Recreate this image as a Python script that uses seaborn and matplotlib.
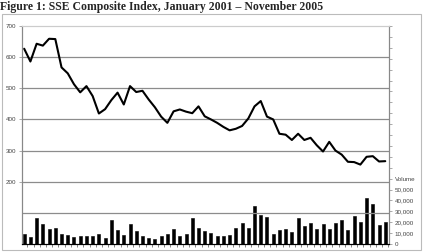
import numpy as np
import pandas as pd
import matplotlib
matplotlib.use("Agg")
import matplotlib.pyplot as plt
import seaborn as sns

# Monthly data, Jan 2001 - Nov 2005
months = pd.date_range("2001-01-01", "2005-11-01", freq="MS").strftime("%Y-%m").tolist()

index_close = [627, 586, 643, 637, 659, 658, 567, 548, 513, 487,
               507, 475, 419, 433, 462, 486, 448, 507, 488, 492,
               464, 439, 409, 389, 426, 432, 425, 420, 442, 410,
               400, 389, 376, 365, 370, 379, 403, 442, 459, 409,
               400, 354, 351, 334, 354, 334, 341, 317, 297, 328,
               300, 287, 264, 263, 255, 280, 282, 265, 266]

volume = [9300, 6500, 23800, 18200, 13900, 14800, 9600, 8300, 6200, 7100,
          7400, 7700, 9000, 5600, 21600, 13300, 8300, 18500, 12000, 7400,
          5600, 4600, 7700, 9000, 13600, 7400, 9300, 24200, 15000, 12000,
          10300, 7000, 7000, 8100, 14400, 19000, 15000, 35000, 26800, 24700,
          9000, 13200, 14000, 11200, 23800, 16800, 18900, 14000, 18300, 13700,
          19500, 22000, 12500, 25300, 20400, 42100, 36900, 17700, 20400]

left_ticks = [200, 300, 400, 500, 600, 700]
right_ticks = [0, 10000, 20000, 30000, 40000, 50000]

df = pd.DataFrame({"month": months, "pos": range(len(months)),
                   "index": index_close, "volume": volume})

sns.set_style("white")
plt.rcParams["font.family"] = ["Liberation Sans", "DejaVu Sans"]

fig = plt.figure(figsize=(4.24, 2.52), dpi=100)
ax = fig.add_axes([22 / 424, 8 / 252, 367 / 424, 218 / 252])
axv = ax.twinx()

# volume bars (right axis)
sns.barplot(data=df, x="month", y="volume", color="black", width=0.48,
            saturation=1, edgecolor="black", linewidth=0.4, ax=axv)
# index line (left axis)
sns.lineplot(data=df, x="pos", y="index", color="black", linewidth=1.5, ax=ax)
ax.set_zorder(axv.get_zorder() + 1)
ax.patch.set_visible(False)

ax.set_xlim(-0.35, 58.6)
ax.set_ylim(0, 700)
axv.set_ylim(0, 200000)

# left axis + grid
ax.set_yticks(left_ticks)
ax.set_yticklabels([str(v) for v in left_ticks], fontsize=4.5, color="#444444")
for y in range(100, 700, 100):
    ax.axhline(y, color="#8c8c8c", linewidth=0.9, zorder=0)
ax.tick_params(axis="y", length=2, width=0.5, color="#888888", pad=2)
ax.set_xlabel("")
ax.set_ylabel("")

# bottom axis ticks at month boundaries
ax.set_xticks(np.arange(0.5, 58.6, 1))
ax.set_xticklabels([])
ax.tick_params(axis="x", length=2, width=0.5, color="#555555", bottom=True)
axv.tick_params(axis="x", bottom=False, labelbottom=False)

# right axis: volume
axv.set_yticks(np.arange(0, 200001, 10000))
rlabels = []
for v in np.arange(0, 200001, 10000):
    if v in right_ticks:
        rlabels.append(f"{v:,}")
    elif v == 60000:
        rlabels.append("Volume")
    else:
        rlabels.append("")
axv.set_yticklabels(rlabels, fontsize=4.5, color="#444444")
axv.tick_params(axis="y", length=2, width=0.5, color="#888888", pad=2, right=True)
axv.set_xlabel("")
axv.set_ylabel("")

for a in (ax, axv):
    a.spines["top"].set_color("#cccccc")
    a.spines["left"].set_color("#888888")
    a.spines["right"].set_color("#888888")
    a.spines["bottom"].set_color("black")
    for s in a.spines.values():
        s.set_linewidth(0.8)

# outer frame
fig.patches.append(plt.Rectangle((2 / 424, 2 / 252), 419 / 424, 236 / 252,
                                 transform=fig.transFigure, fill=False,
                                 edgecolor="#bbbbbb", linewidth=0.8))

fig.text(0.0, 0.995, "Figure 1: SSE Composite Index, January 2001 \u2013 November 2005",
         ha="left", va="top", fontsize=8.5, fontweight="bold",
         family=["Liberation Serif", "DejaVu Serif"])

fig.savefig("out.png", dpi=100)
